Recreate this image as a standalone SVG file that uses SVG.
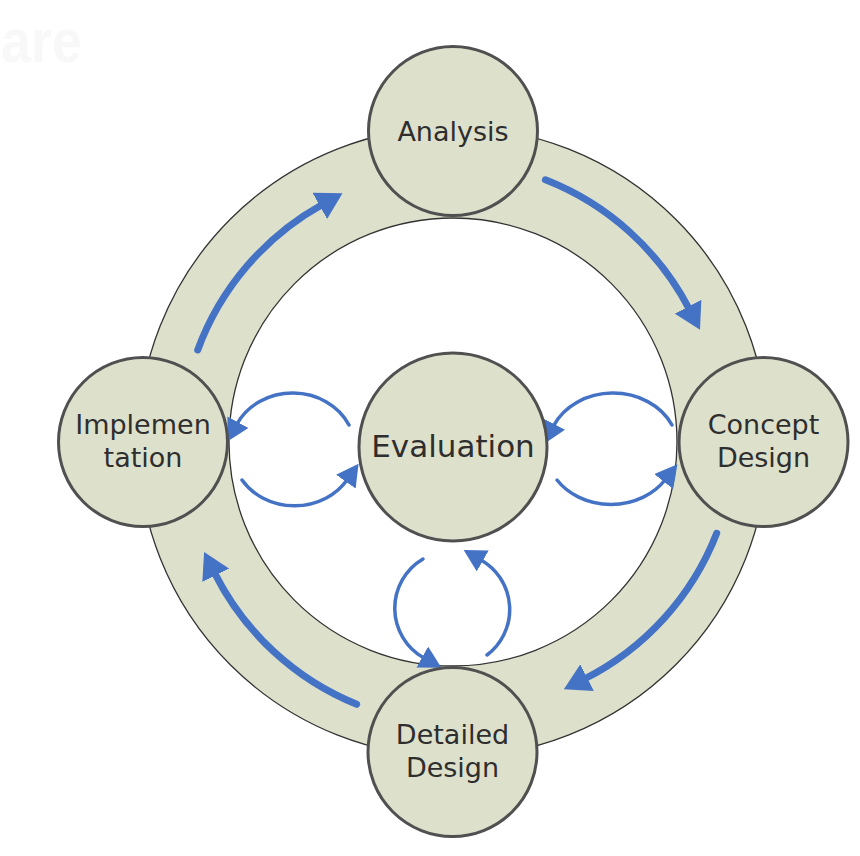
<svg xmlns="http://www.w3.org/2000/svg" width="860" height="856" viewBox="0 0 860 856">
<defs>
<style>
.node{fill:#dde0cb;stroke:#505050;stroke-width:3}
.lbl{font-family:"DejaVu Sans",Verdana,sans-serif;font-size:27px;fill:#2e2e2e;text-anchor:middle}
.big{fill:none;stroke:#4472c4;stroke-width:7;stroke-linecap:round;marker-end:url(#bigArrow)}
.small{fill:none;stroke:#4472c4;stroke-width:3.5;stroke-linecap:round;marker-end:url(#smallArrow)}
</style>
<marker id="bigArrow" viewBox="0 0 26 30" refX="3" refY="15" markerWidth="26" markerHeight="30" markerUnits="userSpaceOnUse" orient="auto">
<path d="M0,0 L26,15 L0,30 z" fill="#4472c4"/>
</marker>
<marker id="smallArrow" viewBox="0 0 22 24" refX="2" refY="12" markerWidth="22" markerHeight="24" markerUnits="userSpaceOnUse" orient="auto">
<path d="M0,0 L22,12 L0,24 z" fill="#4472c4"/>
</marker>
</defs>
<rect width="860" height="856" fill="#ffffff"/>
<text x="1" y="62" font-family="Liberation Sans,Arial,sans-serif" font-weight="bold" font-size="62" fill="#f8f8f8" textLength="81" lengthAdjust="spacingAndGlyphs">are</text>
<g id="ring">
<path d="M453,127 A315,315 0 1 1 453,757 A315,315 0 1 1 453,127 Z M453,218 A224,224 0 1 0 453,666 A224,224 0 1 0 453,218 Z" fill="#dde0cb" fill-rule="evenodd" stroke="#333" stroke-width="1.3"/>
</g>
<g id="connectors">
<path class="big" d="M545.4,179.8 A275,275 0 0 1 689.4,309.4"/>
<path class="big" d="M716.7,533.3 A275,275 0 0 1 584.4,679"/>
<path class="big" d="M356.7,704.3 A275,275 0 0 1 214.4,572.6"/>
<path class="big" d="M197.7,350 A275,275 0 0 1 322.4,204.5"/>
<path class="small" d="M349,425 A62,55 0 0 0 237,424"/>
<path class="small" d="M242,480 A62,55 0 0 0 347,480"/>
<path class="small" d="M672,425 A65,55 0 0 0 553.5,426"/>
<path class="small" d="M557,480 A65,55 0 0 0 665,480"/>
<path class="small" d="M423,559 A57,57 0 0 0 424,658"/>
<path class="small" d="M487,655 A57,57 0 0 0 481,560"/>
</g>
<g id="analysis">
<circle class="node" cx="453" cy="131" r="84.5"/>
<text class="lbl" x="453" y="141">Analysis</text>
</g>
<g id="concept-design">
<circle class="node" cx="763.5" cy="442" r="84.5"/>
<text class="lbl" x="763.5" y="434">Concept</text>
<text class="lbl" x="763.5" y="467">Design</text>
</g>
<g id="detailed-design">
<circle class="node" cx="452.5" cy="752" r="84.5"/>
<text class="lbl" x="452.5" y="744">Detailed</text>
<text class="lbl" x="452.5" y="777">Design</text>
</g>
<g id="implementation">
<circle class="node" cx="143" cy="442" r="84.5"/>
<text class="lbl" x="143" y="434">Implemen</text>
<text class="lbl" x="143" y="467">tation</text>
</g>
<g id="evaluation">
<circle class="node" cx="453" cy="447" r="94"/>
<text class="lbl" x="453" y="457" style="font-size:31px">Evaluation</text>
</g>
</svg>
